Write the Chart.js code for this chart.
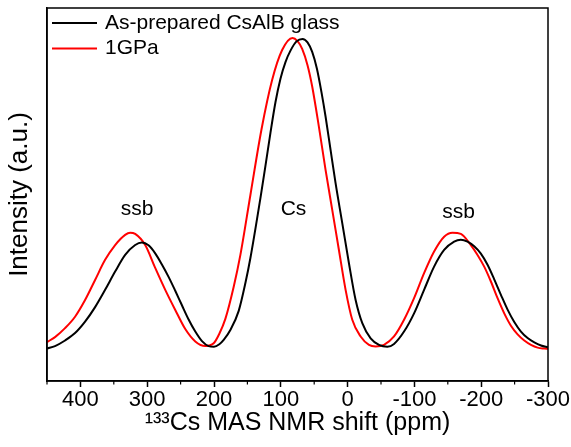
<!DOCTYPE html>
<html>
<head>
<meta charset="utf-8">
<script src="https://cdn.jsdelivr.net/npm/chart.js@4"></script>
<style>
  html, body { margin: 0; padding: 0; background: #fff; }
</style>
</head>
<body>
<canvas id="nmr" width="571" height="447"></canvas>
<script>
// ---------------------------------------------------------------------------
// 133Cs MAS NMR spectra, as-prepared vs 1 GPa
// ---------------------------------------------------------------------------

const xTicks = [400, 300, 200, 100, 0, -100, -200, -300];
const minorTicks = [450, 350, 250, 150, 50, -50, -150, -250];
const seriesLabels = ["As-prepared CsAlB glass", "1GPa"];
const seriesColors = ["#000000", "#ff0000"];
const peakLabels = ["ssb", "Cs", "ssb"];
const peakLabelX = [315, 81, -166];
const peakLabelY = [45, 45, 44];

// as-prepared (black)
const blackShift = [450, 438, 423, 408, 393, 378, 363, 348, 333, 318, 308, 298, 288, 278, 268, 258, 248, 238, 228, 218, 208, 200, 192, 185.5, 175.5, 163, 153, 145.5, 130.5, 123, 115.5, 108, 100.5, 93, 85.5, 76.5, 67.5, 60, 53, 46, 39, 33, 25.5, 18, 8, -2, -12, -22, -34.5, -47, -59.5, -69.5, -84.5, -99.5, -114.5, -129.5, -144.5, -159.5, -169.5, -179.5, -189.5, -199.5, -209.5, -219.5, -229.5, -239.5, -249.5, -259.5, -269.5, -279.5, -289.5, -300];
const blackIntensity = [-0.2, 0.6, 2.4, 4.8, 8.5, 13.2, 18.8, 24.7, 30.1, 33.3, 34.1, 33.2, 30.6, 27.0, 23.0, 18.5, 13.8, 9.2, 5.3, 2.2, 0.6, 0.4, 1.2, 2.6, 5.8, 12.0, 21.0, 29.1, 48.5, 58.9, 69.6, 79.5, 87.1, 92.5, 96.2, 99.2, 100, 98.9, 95.8, 90.4, 82.6, 74.9, 64.1, 53.3, 40.4, 27.4, 15.5, 8.0, 3.1, 1.0, 0.4, 1.3, 5.3, 11.2, 18.8, 26.3, 31.7, 34.4, 35.0, 34.4, 32.9, 30.5, 26.9, 22.2, 17.2, 12.4, 8.4, 5.3, 3.2, 1.8, 0.8, 0.2];

// 1 GPa (red)
const redShift = [450, 438, 423, 408, 393, 378, 363, 348, 333, 325.5, 318, 303, 288, 273, 258, 243, 228, 213, 200.5, 192, 183, 170.5, 160.5, 145.5, 129, 113, 98, 82.5, 75, 68, 60, 53, 43, 33, 23, 13, 3, -7, -19.5, -32, -42, -54.5, -69.5, -84.5, -99.5, -114.5, -129.5, -144.5, -157, -169.5, -184.5, -194.5, -204.5, -214.5, -224.5, -234.5, -244.5, -254.5, -264.5, -274.5, -284.5, -294.5, -300];
const redIntensity = [1.9, 3.5, 6.4, 10.1, 15.5, 22.0, 28.5, 33.3, 36.6, 37.3, 36.9, 33.3, 25.9, 18.8, 12.3, 6.1, 2.1, 0.6, 1.5, 4.6, 9.4, 19.8, 30.1, 49.5, 70.6, 86.7, 96.4, 100.3, 99.3, 96.8, 91.5, 84.6, 71.6, 57.6, 44.7, 31.7, 18.8, 9.1, 3.7, 1.0, 0.5, 1.0, 3.7, 9.1, 16.1, 24.2, 31.2, 36.0, 37.3, 36.9, 33.3, 30.1, 26.3, 21.5, 16.1, 11.2, 7.2, 4.4, 2.4, 1.0, 0.1, -0.2, -0.3];

const FONT = "'Liberation Sans', Arial, sans-serif";
Chart.defaults.font.family = FONT;
Chart.defaults.color = "#000";

const toPoints = (xs, ys) => xs.map((x, i) => ({ x, y: ys[i] }));

// frame, minor ticks, in-plot legend and peak labels
const decorPlugin = {
  id: "decor",
  afterDraw(chart) {
    const { ctx, chartArea: a, scales: { x, y } } = chart;
    ctx.save();
    ctx.strokeStyle = "#000";
    ctx.lineWidth = 1.5;
    ctx.strokeRect(a.left, a.top, a.right - a.left, a.bottom - a.top);

    ctx.lineWidth = 1.2;
    minorTicks.forEach((v) => {
      const px = x.getPixelForValue(v);
      ctx.beginPath();
      ctx.moveTo(px, a.bottom);
      ctx.lineTo(px, a.bottom + 3.5);
      ctx.stroke();
    });

    ctx.font = `21px ${FONT}`;
    ctx.textBaseline = "middle";
    chart.data.datasets.forEach((ds, i) => {
      const ly = a.top + 15 + i * 25.5;
      ctx.strokeStyle = ds.borderColor;
      ctx.lineWidth = 2;
      ctx.beginPath();
      ctx.moveTo(a.left + 5, ly);
      ctx.lineTo(a.left + 50, ly);
      ctx.stroke();
      ctx.fillStyle = "#000";
      ctx.textAlign = "left";
      ctx.fillText(ds.label, a.left + 58, ly);
    });

    ctx.textAlign = "center";
    peakLabels.forEach((t, i) => {
      ctx.fillText(t, x.getPixelForValue(peakLabelX[i]), y.getPixelForValue(peakLabelY[i]));
    });
    ctx.restore();
  },
};

new Chart(document.getElementById("nmr"), {
  type: "line",
  data: {
    datasets: [
      {
        label: seriesLabels[0],
        data: toPoints(blackShift, blackIntensity),
        borderColor: seriesColors[0],
      },
      {
        label: seriesLabels[1],
        data: toPoints(redShift, redIntensity),
        borderColor: seriesColors[1],
      },
    ],
  },
  options: {
    responsive: false,
    animation: false,
    layout: { padding: { top: 8, right: 23, left: 0, bottom: 0 } },
    elements: {
      point: { radius: 0 },
      line: { borderWidth: 2, cubicInterpolationMode: "monotone", fill: false },
    },
    plugins: { legend: { display: false }, tooltip: { enabled: false } },
    scales: {
      x: {
        type: "linear",
        reverse: true,
        min: -300,
        max: 450,
        afterBuildTicks: (s) => { s.ticks = xTicks.map((v) => ({ value: v })); },
        afterFit: (s) => { s.height = 66; },
        grid: { drawOnChartArea: false, tickLength: 6, tickColor: "#000", tickWidth: 1.5 },
        border: { color: "#000", width: 1.5 },
        ticks: { font: { size: 22 }, color: "#000", padding: 0, maxRotation: 0, autoSkip: false },
        title: {
          display: true,
          text: "¹³³Cs MAS NMR shift (ppm)",
          font: { size: 25 },
          color: "#000",
          padding: { top: 0, bottom: 9 },
        },
      },
      y: {
        min: -10.7,
        max: 110,
        afterFit: (s) => { s.width = 47; },
        grid: { display: false },
        border: { color: "#000", width: 1.5 },
        ticks: { display: false },
        title: {
          display: true,
          text: "Intensity (a.u.)",
          font: { size: 26 },
          color: "#000",
          padding: { top: 4, bottom: 0 },
        },
      },
    },
  },
  plugins: [decorPlugin],
});
</script>
</body>
</html>
